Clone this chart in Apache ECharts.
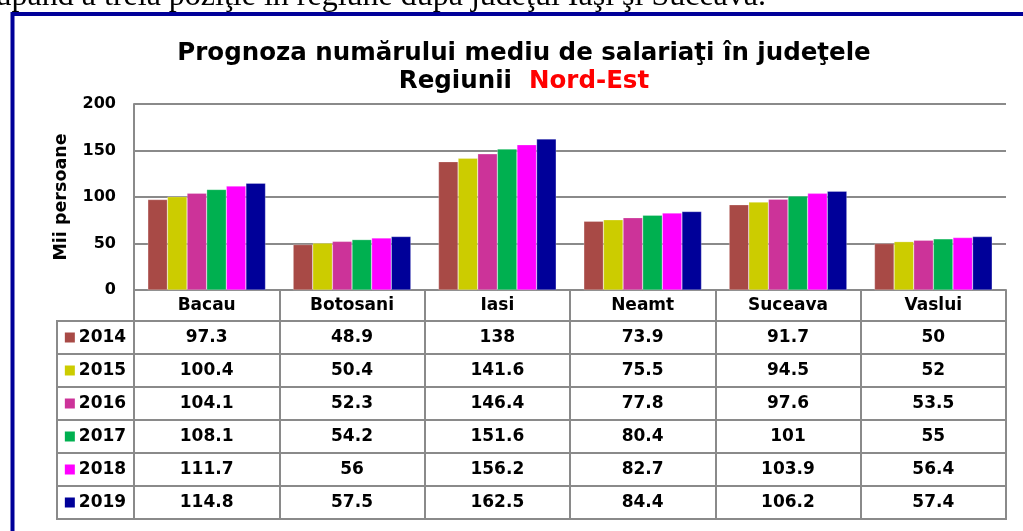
<!DOCTYPE html>
<html><head><meta charset="utf-8">
<script src="https://cdn.jsdelivr.net/npm/echarts@6/dist/echarts.min.js"></script>
<style>html,body{margin:0;padding:0;background:#fff}#c{width:1023px;height:531px}</style>
</head><body><div id="c"></div>
<script>
const categories = ['Bacau', 'Botosani', 'Iasi', 'Neamt', 'Suceava', 'Vaslui'];
const years = ['2014', '2015', '2016', '2017', '2018', '2019'];
const v2014 = [97.3, 48.9, 138, 73.9, 91.7, 50];
const v2015 = [100.4, 50.4, 141.6, 75.5, 94.5, 52];
const v2016 = [104.1, 52.3, 146.4, 77.8, 97.6, 53.5];
const v2017 = [108.1, 54.2, 151.6, 80.4, 101, 55];
const v2018 = [111.7, 56, 156.2, 82.7, 103.9, 56.4];
const v2019 = [114.8, 57.5, 162.5, 84.4, 106.2, 57.4];
const seriesValues = [v2014, v2015, v2016, v2017, v2018, v2019];
const colors = ['#A84A46', '#CCCC00', '#CC3399', '#00B050', '#FF00FF', '#000099'];
const titleLine1 = 'Prognoza numărului mediu de salariaţi în judeţele';
const titleLine2a = 'Regiunii  ';
const titleLine2b = 'Nord-Est';
const yAxisName = 'Mii persoane';
const topText = 'ocupând a treia poziţie în regiune după judeţul Iaşi şi Suceava.';

const F = '"DejaVu Sans", sans-serif';
const GRAY = '#8a8a8a';
const chart = echarts.init(document.getElementById('c'), null, {renderer: 'canvas'});

const barSeries = years.map((y, j) => ({
  type: 'bar', name: y, xAxisIndex: 0, yAxisIndex: 0,
  data: seriesValues[j], barGap: '0%', barCategoryGap: '19%',
  itemStyle: {color: colors[j], borderColor: 'rgba(255,255,255,0.5)', borderWidth: 0.5},
  silent: true
}));

const cellData = [];
years.forEach((y, j) => categories.forEach((c, i) => cellData.push([i, j, seriesValues[j][i]])));

const legendData = years.map((y, j) => ({
  value: [0, j],
  label: {
    show: true, position: 'inside', opacity: 1, textBorderWidth: 0,
    formatter: '{s|}{g|}{y|' + y + '}',
    rich: {
      s: {width: 10, height: 10, backgroundColor: colors[j]},
      g: {width: 4},
      y: {fontFamily: F, fontWeight: 'bold', fontSize: 17, color: '#000'}
    }
  }
}));

chart.setOption({
  animation: false,
  backgroundColor: '#fff',
  title: {
    left: 524, top: 40, textAlign: 'center', padding: 0,
    text: '{a|' + titleLine1 + '}\n{a|' + titleLine2a + '}{r|' + titleLine2b + '}',
    textStyle: {
      rich: {
        a: {fontFamily: F, fontWeight: 'bold', fontSize: 24.5, color: '#000', lineHeight: 28},
        r: {fontFamily: F, fontWeight: 'bold', fontSize: 24.5, color: '#FF0000', lineHeight: 28}
      }
    }
  },
  grid: [
    {left: 134, right: 17, top: 104, bottom: 241, containLabel: false},
    {left: 134, right: 17, top: 321, bottom: 12, show: true, borderColor: GRAY, borderWidth: 2, backgroundColor: 'transparent'},
    {left: 57, width: 77, top: 321, bottom: 12, show: true, borderColor: GRAY, borderWidth: 2, backgroundColor: 'transparent'}
  ],
  xAxis: [
    {type: 'category', gridIndex: 0, data: categories, boundaryGap: true,
     axisLine: {show: true, lineStyle: {color: GRAY, width: 2}},
     axisTick: {show: true, interval: 0, length: 31, lineStyle: {color: GRAY, width: 2}},
     axisLabel: {interval: 0, margin: 7, fontFamily: F, fontWeight: 'bold', fontSize: 17, color: '#000', verticalAlign: 'top'},
     splitLine: {show: false}},
    {type: 'category', gridIndex: 1, data: categories, boundaryGap: true,
     axisLine: {show: false}, axisTick: {show: false}, axisLabel: {show: false},
     splitLine: {show: true, interval: 0, lineStyle: {color: GRAY, width: 2}}},
    {type: 'category', gridIndex: 2, data: [''], boundaryGap: true,
     axisLine: {show: false}, axisTick: {show: false}, axisLabel: {show: false},
     splitLine: {show: false}}
  ],
  yAxis: [
    {type: 'value', gridIndex: 0, min: 0, max: 200, interval: 50,
     name: yAxisName, nameLocation: 'middle', nameRotate: 90, nameGap: 64,
     nameTextStyle: {fontFamily: F, fontWeight: 'bold', fontSize: 17.5, color: '#000'},
     axisLine: {show: true, lineStyle: {color: GRAY, width: 2}},
     axisTick: {show: false},
     axisLabel: {margin: 18, fontFamily: F, fontWeight: 'bold', fontSize: 16, color: '#000'},
     splitLine: {show: true, lineStyle: {color: GRAY, width: 2}}},
    {type: 'category', gridIndex: 1, data: years, inverse: true, boundaryGap: true,
     axisLine: {show: false}, axisTick: {show: false}, axisLabel: {show: false},
     splitLine: {show: true, interval: 0, lineStyle: {color: GRAY, width: 2}}},
    {type: 'category', gridIndex: 2, data: years, inverse: true, boundaryGap: true,
     axisLine: {show: false}, axisTick: {show: false}, axisLabel: {show: false},
     splitLine: {show: true, interval: 0, lineStyle: {color: GRAY, width: 2}}}
  ],
  series: barSeries.concat([
    {type: 'scatter', xAxisIndex: 1, yAxisIndex: 1, data: cellData, symbolSize: 1,
     itemStyle: {color: 'rgba(0,0,0,0)', opacity: 1}, silent: true,
     label: {show: true, position: 'inside', opacity: 1, textBorderWidth: 0, formatter: p => String(p.value[2]),
             fontFamily: F, fontWeight: 'bold', fontSize: 17, color: '#000'}},
    {type: 'scatter', xAxisIndex: 2, yAxisIndex: 2, data: legendData, symbolSize: 1,
     itemStyle: {color: 'rgba(0,0,0,0)', opacity: 1}, silent: true}
  ]),
  graphic: [
    {type: 'text', x: 766, y: 13, silent: true,
     style: {text: topText, font: '32px "Liberation Serif", serif', fill: '#000', align: 'right', verticalAlign: 'bottom'}},
    {type: 'rect', x: 0, y: 0, silent: true,
     shape: {x: 12.5, y: 14, width: 1100, height: 600},
     style: {fill: 'none', stroke: '#000099', lineWidth: 4}}
  ]
});
</script></body></html>
